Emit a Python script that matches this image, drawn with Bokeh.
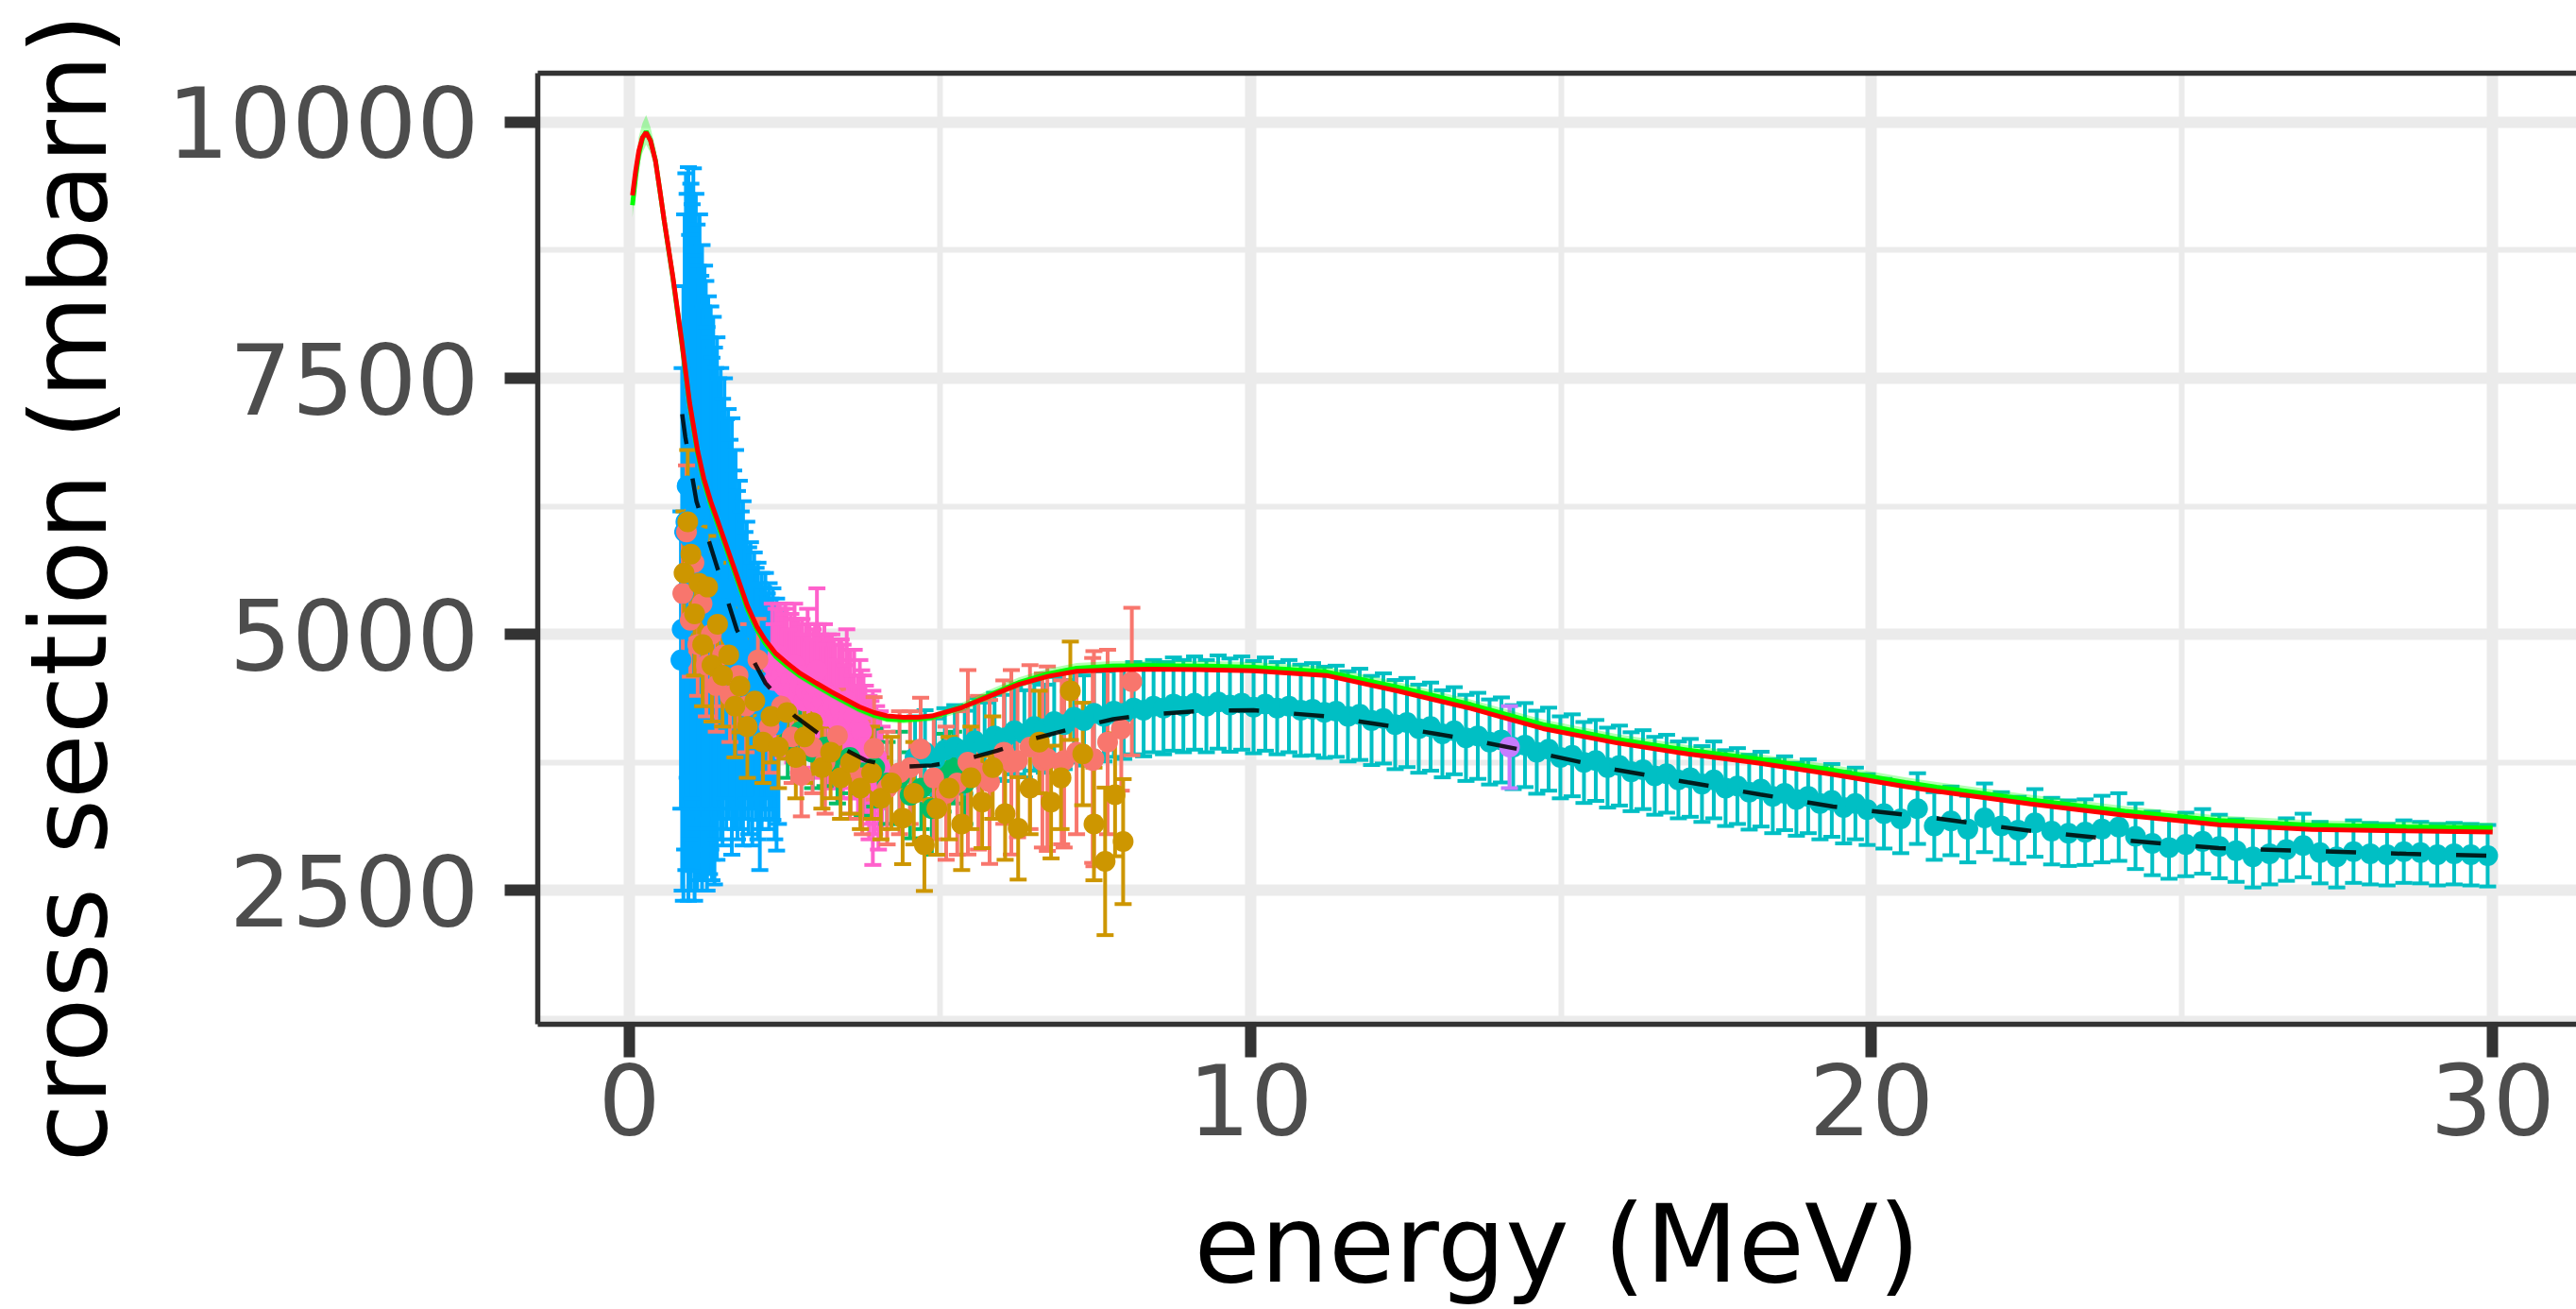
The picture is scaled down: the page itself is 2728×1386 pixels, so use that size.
import math
from bokeh.plotting import figure
from bokeh.models import FixedTicker, LinearAxis, Range1d, Title
from bokeh.embed import file_html
from bokeh.resources import INLINE

# ---------------- axis ticks / titles ----------------
x_ticks = [0, 10, 20, 30]
x_minor = [5, 15, 25]
y_ticks = [2500, 5000, 7500, 10000]
y_minor = [1250, 3750, 6250, 8750]
x_title = "energy (MeV)"
y_title = "cross section (mbarn)"

# ---------------- model curves ----------------
line_e = [0.05, 0.10, 0.15, 0.21, 0.27, 0.34, 0.42, 0.49, 0.56, 0.63, 0.70, 0.77, 0.84,
          0.97, 1.10, 1.20, 1.31, 1.45, 1.60, 1.75, 1.90, 2.05, 2.19,
          2.35, 2.54, 2.75, 3.01, 3.25, 3.48, 3.70, 3.94, 4.15, 4.41,
          4.65, 4.87,
          5.34, 5.80, 6.27, 6.74, 7.20, 7.79, 8.37, 9.30,
          10.05, 11.22, 12.38, 13.55, 14.71, 15.88, 17.04, 18.21, 19.38, 20.54,
          21.05, 22.56, 24.08, 25.59, 27.09, 28.61, 30.0]
red_y = [9286, 9520, 9715, 9850, 9899, 9820, 9623, 9340, 9044, 8770, 8493, 8185, 7877,
         7261, 6790, 6520, 6300, 6060, 5800, 5540, 5280, 5080, 4945,
         4820, 4720, 4620, 4525, 4440, 4366, 4295, 4237, 4205, 4191,
         4192, 4204,
         4283, 4397, 4512, 4591, 4641, 4655, 4660, 4655,
         4645, 4600, 4447, 4277, 4081, 3943, 3833, 3741, 3634, 3515,
         3470, 3346, 3235, 3143, 3097, 3082, 3070]
green_line_y = [9190, 9460, 9680, 9840, 9910, 9825, 9630, 9335, 9040, 8760, 8480, 8170, 7860,
                7240, 6765, 6490, 6270, 6030, 5770, 5510, 5250, 5050, 4910,
                4790, 4690, 4595, 4500, 4415, 4340, 4270, 4210, 4175, 4165,
                4175, 4190,
                4285, 4410, 4530, 4615, 4670, 4690, 4695, 4690,
                4680, 4635, 4485, 4315, 4120, 3980, 3870, 3780, 3675, 3555,
                3510, 3385, 3275, 3183, 3137, 3122, 3110]
rib_lo = [9070, 9350, 9560, 9700, 9780, 9700, 9530, 9260, 8980, 8710, 8440, 8135, 7830,
          7205, 6730, 6455, 6235, 5995, 5735, 5475, 5215, 5015, 4875,
          4755, 4655, 4560, 4465, 4380, 4305, 4235, 4175, 4140, 4130,
          4140, 4155,
          4240, 4360, 4480, 4565, 4620, 4640, 4645, 4640,
          4630, 4585, 4435, 4265, 4070, 3930, 3820, 3730, 3625, 3505,
          3460, 3335, 3225, 3133, 3087, 3072, 3060]
rib_hi = [9300, 9580, 9850, 9990, 10070, 9950, 9740, 9420, 9110, 8820, 8530, 8210, 7900,
          7275, 6800, 6525, 6305, 6065, 5805, 5545, 5285, 5085, 4945,
          4825, 4725, 4630, 4535, 4450, 4375, 4305, 4245, 4210, 4200,
          4210, 4225,
          4330, 4460, 4580, 4665, 4720, 4740, 4745, 4740,
          4730, 4685, 4535, 4365, 4170, 4030, 3920, 3830, 3725, 3605,
          3560, 3435, 3325, 3233, 3187, 3172, 3160]

dash_e = [0.85, 0.90, 1.08, 1.38, 1.73, 2.19, 2.66, 3.24, 3.82, 4.29, 4.87, 5.34, 5.92, 6.50,
          7.09, 7.79, 8.37, 9.30, 10.05, 11.22, 12.38, 13.55, 14.71, 15.88, 17.04, 18.21,
          19.38, 20.54, 21.05, 22.56, 24.08, 25.59, 27.09, 28.61, 30.0]
dash_y = [7150, 6930, 6300, 5720, 5046, 4526, 4204, 3946, 3768, 3704, 3722, 3768, 3865, 3980,
          4074, 4173, 4219, 4256, 4260, 4200, 4093, 3971, 3833, 3680, 3557, 3438,
          3320, 3240, 3205, 3082, 2990, 2914, 2886, 2858, 2840]

# ---------------- experimental data sets ----------------
blue_e = [0.83, 0.85, 0.87, 0.89, 0.91, 0.93, 0.95, 0.97, 0.99, 1.01, 1.03, 1.05, 1.07, 1.09, 1.11,
          1.13, 1.15, 1.17, 1.19, 1.21, 1.23, 1.25, 1.27, 1.29, 1.31, 1.33, 1.35, 1.37, 1.39, 1.41,
          1.44, 1.47, 1.50, 1.53, 1.56, 1.59, 1.62, 1.65, 1.68, 1.71, 1.74, 1.77, 1.80, 1.83, 1.86,
          1.89, 1.92, 1.95, 1.98, 2.01, 2.04, 2.07, 2.10, 2.13, 2.16, 2.19, 2.22, 2.25, 2.28, 2.31,
          2.34, 2.37, 2.40]
blue_y = [4750, 5050, 5400, 6000, 6100, 6450, 5980, 5950, 5950, 6300, 6120, 5550, 6200, 5750, 5950,
          5850, 5700, 5650, 5700, 5600, 5620, 5250, 5700, 5280, 5550, 5150, 5700, 5180, 5300, 5350,
          5350, 5300, 5120, 5450, 5100, 5200, 5100, 4980, 4950, 4950, 4700, 4900, 4650, 4620, 4600,
          4750, 4450, 4600, 4320, 4550, 4420, 4350, 4100, 4350, 4380, 4400, 4400, 4300, 4320, 4320,
          4150, 4120, 4180]
blue_err = [1450, 2550, 3000, 3100, 3400, 2850, 3580, 2950, 3450, 2900, 3430, 3150, 3100, 3250, 2650,
            3250, 2800, 3150, 2500, 3000, 2830, 2750, 2600, 2620, 2650, 2550, 2400, 2620, 2300, 2550,
            2150, 2300, 2180, 2050, 2000, 2000, 1800, 2130, 1650, 1850, 1700, 1600, 1550, 1680, 1400,
            1350, 1400, 1300, 1380, 1250, 1230, 1350, 1400, 1250, 1080, 1200, 1000, 1200, 1030, 1130,
            1150, 1230, 1030]

pink_e = [2.30, 2.33, 2.36, 2.39, 2.42, 2.45, 2.48, 2.51, 2.54, 2.57, 2.60, 2.63, 2.66, 2.69, 2.72,
          2.75, 2.78, 2.81, 2.84, 2.87, 2.90, 2.93, 2.96, 2.99, 3.02, 3.05, 3.08, 3.11, 3.14, 3.17,
          3.20, 3.23, 3.26, 3.29, 3.32, 3.35, 3.38, 3.41, 3.44, 3.47, 3.50, 3.53, 3.56, 3.59, 3.62,
          3.65, 3.68, 3.71, 3.74, 3.77, 3.80, 3.83, 3.86, 3.89, 3.92, 3.95, 3.98, 4.01, 4.04, 4.07]
pink_y = [4700, 4550, 4600, 4800, 4750, 4600, 4500, 4700, 4650, 4500, 4550, 4450, 4700, 4600, 4400,
          4500, 4600, 4350, 4450, 4550, 4500, 4400, 4350, 4500, 4650, 4450, 4300, 4350, 4450, 4200,
          4250, 4400, 4400, 4300, 4200, 4150, 4300, 4250, 4150, 4100, 4350, 4200, 4050, 4000, 4200,
          3950, 3900, 4100, 4050, 3900, 3850, 3750, 3700, 3800, 3600, 3650, 3800, 3550, 3700, 3600]
pink_err = [600, 550, 650, 500, 550, 650, 700, 600, 600, 550, 650, 700, 600, 550, 750,
            600, 550, 650, 650, 700, 600, 550, 700, 600, 800, 650, 700, 600, 650, 700,
            750, 550, 600, 650, 700, 600, 650, 700, 750, 600, 700, 650, 800, 600, 650,
            550, 700, 650, 600, 700, 650, 600, 700, 550, 850, 600, 500, 650, 550, 500]

green_e = [2.55, 2.75, 2.95, 3.15, 3.35, 3.55, 3.75, 3.95, 4.15, 4.35, 4.52, 4.70, 4.87, 5.05, 5.22, 5.40]
green_y = [3950, 4050, 3850, 3900, 3750, 3800, 3650, 3700, 3550, 3600, 3430, 3500, 3300, 3650, 3700, 3550]
green_err = [350, 400, 350, 380, 400, 350, 420, 380, 400, 450, 420, 400, 450, 380, 350, 400]

teal_e = [4.60, 4.76, 4.92, 5.08, 5.24, 5.40, 5.56, 5.72, 5.88, 6.04, 6.20, 6.36, 6.52, 6.68, 6.84,
          7.00, 7.16, 7.32, 7.48, 7.64, 7.80, 7.96, 8.12, 8.28, 8.44, 8.60, 8.76, 8.92,
          9.10, 9.29, 9.48, 9.67, 9.86, 10.05, 10.24, 10.43, 10.62, 10.81, 11.00, 11.19, 11.38,
          11.57, 11.76, 11.95, 12.14, 12.33, 12.52, 12.71, 12.90, 13.09, 13.28, 13.47, 13.66,
          13.85, 14.04, 14.23, 14.42, 14.61, 14.80, 14.99, 15.18, 15.37, 15.56, 15.75, 15.94,
          16.13, 16.32, 16.51, 16.70, 16.89, 17.08, 17.27, 17.46, 17.65, 17.84, 18.03, 18.22,
          18.41, 18.60, 18.79, 18.98, 19.17, 19.36, 19.55, 19.74, 19.93,
          20.20, 20.47, 20.74, 21.01, 21.28, 21.55, 21.82, 22.09, 22.36, 22.63, 22.90, 23.17,
          23.44, 23.71, 23.98, 24.25, 24.52, 24.79, 25.06, 25.33, 25.60, 25.87, 26.14, 26.41,
          26.68, 26.95, 27.22, 27.49, 27.76, 28.03, 28.30, 28.57, 28.84, 29.11, 29.38, 29.65, 29.92]
teal_y = [3800, 3850, 3780, 3870, 3900, 3850, 3960, 3920, 4010, 3990, 4060, 4030, 4100, 4080, 4150,
          4120, 4190, 4160, 4230, 4200, 4250, 4230, 4280, 4260, 4300, 4280, 4320, 4300,
          4330, 4300, 4340, 4310, 4330, 4290, 4320, 4280, 4300, 4260, 4270, 4240, 4250, 4200,
          4220, 4160, 4180, 4120, 4140, 4080, 4100, 4030, 4060, 3990, 4010, 3950, 3970, 3900,
          3920, 3850, 3880, 3800, 3820, 3750, 3770, 3700, 3720, 3660, 3680, 3620, 3640, 3580,
          3600, 3540, 3580, 3500, 3520, 3460, 3490, 3420, 3450, 3390, 3420, 3350, 3380, 3310,
          3350, 3290,
          3250, 3200, 3300, 3130, 3180, 3100, 3210, 3130, 3090, 3160, 3080, 3060, 3070, 3100,
          3120, 3030, 2960, 2920, 2950, 2980, 2930, 2890, 2830, 2860, 2900, 2940, 2870, 2830,
          2880, 2860, 2850, 2880, 2870, 2850, 2860, 2850, 2840]
teal_err = [400, 410, 400, 410, 410, 405, 420, 415, 420, 420, 425, 425, 430, 430, 435,
            435, 440, 440, 445, 440, 445, 445, 450, 450, 450, 450, 455, 450,
            455, 450, 455, 455, 455, 450, 455, 450, 450, 445, 450, 445, 445, 440,
            445, 435, 440, 435, 435, 430, 430, 425, 425, 420, 420, 415, 415, 410,
            410, 405, 405, 400, 400, 395, 395, 390, 390, 385, 385, 380, 380, 375,
            380, 370, 375, 370, 370, 365, 365, 360, 360, 355, 360, 350, 355, 350,
            350, 345,
            340, 335, 345, 330, 335, 325, 335, 330, 325, 330, 325, 320, 320, 325,
            330, 320, 310, 305, 310, 315, 310, 305, 300, 300, 305, 310, 300, 300,
            305, 300, 300, 305, 300, 300, 300, 300, 300]

purple_e = [14.17]
purple_y = [3900]
purple_err = [400]

salmon_e = [0.86, 0.92, 0.98, 1.04, 1.10, 1.17, 1.24, 1.32, 1.40, 1.50, 1.62, 1.75, 1.88, 2.07,
            2.25, 2.45, 2.62, 2.77, 2.95, 3.15, 3.35, 3.55, 3.75, 3.94, 4.15, 4.35, 4.52, 4.69,
            4.90, 5.10, 5.28, 5.45, 5.62, 5.80, 6.03, 6.15, 6.25, 6.45, 6.65, 6.73, 6.96, 7.00,
            7.20, 7.46, 7.48, 7.70, 7.92, 8.09]
salmon_y = [5400, 6000, 5138, 5700, 4900, 5300, 4700, 5000, 4500, 4800, 4400, 4600, 4300, 4752,
            4100, 4300, 4000, 3624, 3900, 3750, 4011, 3700, 3600, 3888, 3500, 3650, 3700, 3882,
            3600, 3450, 3550, 3752, 3650, 3560, 3851, 3752, 3770, 3900, 3770, 3787, 3752, 3770,
            3850, 3770, 3787, 3950, 4075, 4540]
salmon_err = [600, 650, 550, 600, 500, 600, 500, 550, 450, 500, 450, 500, 450, 400,
              450, 400, 450, 400, 450, 500, 450, 500, 550, 500, 550, 600, 550, 500,
              600, 650, 700, 900, 750, 800, 700, 900, 750, 800, 850, 900, 800, 850,
              800, 1000, 1050, 900, 600, 720]

gold_e = [0.88, 0.94, 0.99, 1.05, 1.12, 1.18, 1.26, 1.33, 1.42, 1.50, 1.60, 1.70, 1.78, 1.90,
          2.02, 2.15, 2.28, 2.40, 2.54, 2.68, 2.82, 2.95, 3.10, 3.24, 3.40, 3.56, 3.72, 3.90,
          4.05, 4.22, 4.40, 4.58, 4.75, 4.95, 5.15, 5.35, 5.50, 5.68, 5.85, 6.05, 6.26, 6.45,
          6.60, 6.79, 6.95, 7.10, 7.30, 7.48, 7.66, 7.82, 7.95]
gold_y = [5600, 6100, 5784, 5200, 5500, 4900, 5462, 4700, 5100, 4600, 4800, 4300, 4495, 4100,
          4350, 3950, 4200, 3900, 4237, 3800, 4000, 4139, 3700, 3851, 3600, 3750, 3500, 3650,
          3400, 3550, 3208, 3450, 2946, 3300, 3500, 3150, 3600, 3364, 3700, 3250, 3107, 3500,
          3950, 3364, 3600, 4450, 3833, 3150, 2785, 3435, 2978]
gold_err = [600, 700, 650, 600, 550, 600, 500, 550, 600, 500, 450, 500, 450, 500,
            450, 400, 450, 400, 450, 400, 450, 500, 400, 450, 400, 500, 400, 450,
            400, 450, 450, 500, 450, 450, 500, 450, 500, 450, 500, 450, 500, 450,
            500, 550, 500, 480, 500, 550, 720, 600, 610]

# ---------------- figure ----------------
FONT = "DejaVu Sans"
BORDER = "#333333"

p = figure(width=2728, height=1386, output_backend="svg", toolbar_location=None,
           x_range=Range1d(-1.475, 31.35), y_range=Range1d(1195, 10478),
           min_border_left=569, min_border_right=0, min_border_top=77,
           min_border_bottom=299)
p.outline_line_color = None
p.background_fill_color = "white"
p.border_fill_color = "white"

# grid
p.xgrid.ticker = FixedTicker(ticks=x_ticks, minor_ticks=x_minor)
p.ygrid.ticker = FixedTicker(ticks=y_ticks, minor_ticks=y_minor)
for g in (p.xgrid[0], p.ygrid[0]):
    g.grid_line_color = "#EBEBEB"
    g.grid_line_width = 12
    g.minor_grid_line_color = "#EBEBEB"
    g.minor_grid_line_width = 6

# bottom axis
xax = p.below[0]
xax.ticker = FixedTicker(ticks=x_ticks)
xax.major_label_text_font = FONT
xax.major_label_text_font_size = "104px"
xax.major_label_text_color = "#4D4D4D"
xax.major_label_standoff = 6
xax.major_tick_out = 35
xax.major_tick_in = 0
xax.major_tick_line_width = 12
xax.major_tick_line_color = BORDER
xax.minor_tick_line_color = None
xax.axis_line_color = BORDER
xax.axis_line_width = 5.5
xax.axis_label = x_title
xax.axis_label_text_font = FONT
xax.axis_label_text_font_size = "114px"
xax.axis_label_text_font_style = "normal"
xax.axis_label_text_color = "black"
xax.axis_label_standoff = 46

# left axis (a blank axis label is only used as a spacer before the title)
yax = p.left[0]
yax.ticker = FixedTicker(ticks=y_ticks)
yax.major_label_text_font = FONT
yax.major_label_text_font_size = "104px"
yax.major_label_text_color = "#4D4D4D"
yax.major_label_standoff = 27
yax.major_tick_out = 35
yax.major_tick_in = 0
yax.major_tick_line_width = 12
yax.major_tick_line_color = BORDER
yax.minor_tick_line_color = None
yax.axis_line_color = BORDER
yax.axis_line_width = 5.5
yax.axis_label = " "
yax.axis_label_text_font_size = "10px"
yax.axis_label_standoff = 22

# y title placed in the left panel, outside the axis
p.add_layout(Title(text=y_title, align="left", offset=-146, vertical_align="bottom",
                   standoff=0, text_font=FONT, text_font_size="112px",
                   text_font_style="normal", text_color="black"), "left")

# top border of the panel
top_ax = LinearAxis(ticker=FixedTicker(ticks=[]), major_label_text_font_size="0px",
                    major_tick_line_color=None, minor_tick_line_color=None,
                    axis_line_color=BORDER, axis_line_width=5.5)
p.add_layout(top_ax, "above")

# ---------------- data ----------------
groups = [
    (blue_e, blue_y, blue_err, "#00A9FF"),
    (pink_e, pink_y, pink_err, "#FF61CC"),
    (green_e, green_y, green_err, "#00BE67"),
    (teal_e, teal_y, teal_err, "#00BFC4"),
    (purple_e, purple_y, purple_err, "#C77CFF"),
    (salmon_e, salmon_y, salmon_err, "#F8766D"),
    (gold_e, gold_y, gold_err, "#CD9600"),
]
for e, y, err, c in groups:
    lo = [a - b for a, b in zip(y, err)]
    hi = [a + b for a, b in zip(y, err)]
    p.segment(x0=e, y0=lo, x1=e, y1=hi, line_color=c, line_width=4)
    p.scatter(x=list(e) + list(e), y=lo + hi, marker="dash", size=18,
              line_color=c, line_width=4)
for e, y, err, c in groups:
    p.scatter(x=e, y=y, size=22, fill_color=c, line_color=None)

# model curves
p.varea(x=line_e, y1=rib_lo, y2=rib_hi, fill_color="#00FF00", fill_alpha=0.3)
p.line(line_e, green_line_y, line_color="#00FF00", line_width=5)
p.line(line_e, red_y, line_color="#FF0000", line_width=5)
p.line(dash_e, dash_y, line_color="black", line_alpha=0.85, line_width=4.5, line_dash="32 37")

open("out.html", "w").write(file_html(p, INLINE, "plot"))
